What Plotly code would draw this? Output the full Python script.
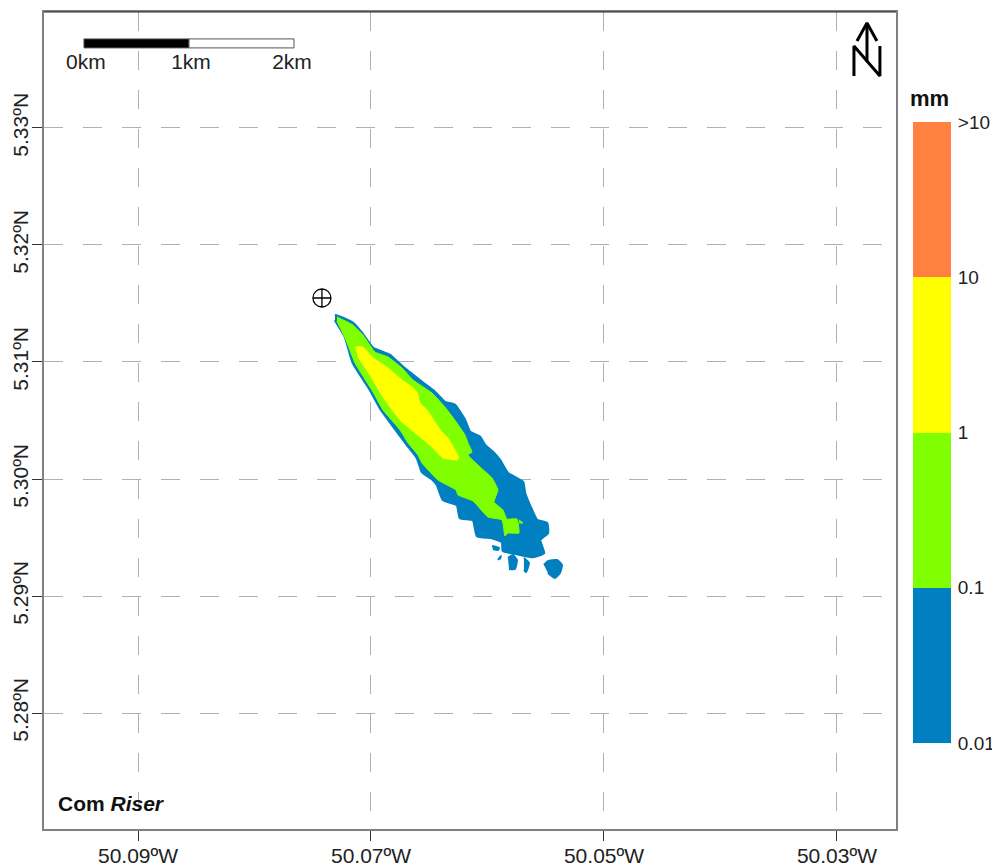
import plotly.graph_objects as go

# Map ticks
lon_ticks = [-50.09, -50.07, -50.05, -50.03]
lon_labels = ["50.09ºW", "50.07ºW", "50.05ºW", "50.03ºW"]
lat_ticks = [5.28, 5.29, 5.30, 5.31, 5.32, 5.33]
lat_labels = ["5.28ºN", "5.29ºN", "5.30ºN", "5.31ºN", "5.32ºN", "5.33ºN"]

# Thickness class outlines (lon, lat)
blue_lon = [-50.07309,-50.07240,-50.07155,-50.07077,-50.06983,-50.06837,-50.06725,-50.06562,-50.06451,-50.06365,-50.06279,-50.06193,-50.06150,-50.06064,-50.06021,-50.05953,-50.05893,-50.05824,-50.05695,-50.05678,-50.05618,-50.05575,-50.05489,-50.05481,-50.05549,-50.05515,-50.05609,-50.05747,-50.05867,-50.05875,-50.05961,-50.06090,-50.06124,-50.06236,-50.06262,-50.06382,-50.06433,-50.06468,-50.06562,-50.06605,-50.06691,-50.06768,-50.06923,-50.07009,-50.07155,-50.07223,-50.07309]
blue_lat = [5.31402,5.31376,5.31333,5.31248,5.31120,5.31060,5.30957,5.30829,5.30744,5.30658,5.30633,5.30504,5.30402,5.30359,5.30291,5.30231,5.30162,5.30051,5.29974,5.29880,5.29735,5.29650,5.29624,5.29538,5.29479,5.29368,5.29333,5.29359,5.29385,5.29462,5.29496,5.29513,5.29650,5.29667,5.29778,5.29821,5.29949,5.29991,5.30060,5.30179,5.30291,5.30393,5.30607,5.30761,5.30991,5.31214,5.31359]
green_lon = [-50.07292,-50.07155,-50.07069,-50.06966,-50.06854,-50.06734,-50.06639,-50.06476,-50.06365,-50.06262,-50.06193,-50.06167,-50.06133,-50.06167,-50.06064,-50.05961,-50.05910,-50.05944,-50.05867,-50.05833,-50.05747,-50.05730,-50.05824,-50.05850,-50.05875,-50.05996,-50.06124,-50.06253,-50.06270,-50.06425,-50.06562,-50.06597,-50.06682,-50.06751,-50.06897,-50.06983,-50.07137,-50.07215,-50.07292]
green_lat = [5.31385,5.31316,5.31231,5.31085,5.31043,5.30949,5.30846,5.30735,5.30615,5.30479,5.30376,5.30308,5.30231,5.30205,5.30103,5.30009,5.29906,5.29803,5.29735,5.29658,5.29658,5.29538,5.29538,5.29513,5.29650,5.29675,5.29812,5.29863,5.29906,5.29991,5.30137,5.30205,5.30308,5.30419,5.30590,5.30744,5.30991,5.31188,5.31350]
yellow_lon = [-50.07137,-50.07069,-50.06991,-50.06854,-50.06734,-50.06648,-50.06605,-50.06579,-50.06519,-50.06451,-50.06391,-50.06339,-50.06245,-50.06262,-50.06382,-50.06468,-50.06579,-50.06751,-50.06897,-50.07009,-50.07112]
yellow_lat = [5.31128,5.31128,5.31043,5.30949,5.30846,5.30786,5.30744,5.30650,5.30590,5.30487,5.30402,5.30350,5.30179,5.30162,5.30179,5.30265,5.30359,5.30504,5.30701,5.30889,5.31043]

# Detached patches
islet_lons = [
    [-50.05515,-50.05481,-50.05403,-50.05360,-50.05378,-50.05421,-50.05481],
    [-50.05824,-50.05781,-50.05747,-50.05764,-50.05815],
    [-50.05687,-50.05644,-50.05669,-50.05687],
    [-50.05961,-50.05901,-50.05910,-50.05953],
    [-50.05910,-50.05884,-50.05893],
]
islet_lats = [
    [5.29265,5.29299,5.29308,5.29265,5.29197,5.29154,5.29197],
    [5.29325,5.29350,5.29308,5.29231,5.29231],
    [5.29325,5.29282,5.29205,5.29222],
    [5.29427,5.29410,5.29393,5.29402],
    [5.29308,5.29342,5.29316],
]
green_spot_lon = [-50.05730,-50.05695,-50.05730]
green_spot_lat = [5.29650,5.29624,5.29624]

release_lon = [-50.07421]
release_lat = [5.31547]

# Scale bar and north arrow
scale_lons = [-50.09464, -50.08562, -50.07661]
scale_label_lons = [-50.09447, -50.08545, -50.07678]
scale_lat_top = 5.33761
scale_lat_bottom = 5.33684
scale_label_lat = 5.33547
scale_labels = ["0km", "1km", "2km"]
north_lon = [None, -50.02828,-50.02742,-50.02657,None,-50.02742,-50.02742,None,-50.02854,-50.02854,-50.02631,-50.02631]
north_lat = [None, 5.33744,5.33897,5.33744,None,5.33897,5.33564,None,5.33444,5.33701,5.33444,5.33701]

# Legend
band_labels = ["0.01", "0.1", "1", "10", ">10"]
band_colors = ["#0080C0", "#80FF00", "#FFFF00", "#FF8040"]
band_steps = [1, 1, 1, 1]

FONT = "Liberation Sans"
BLUE, GREEN, YELLOW, ORANGE = band_colors

fig = go.Figure()

def patch(lon, lat, color, width=1):
    fig.add_trace(go.Scatter(x=lon, y=lat, mode="lines", fill="toself", fillcolor=color,
                             line=dict(color=color, width=width, shape="spline", smoothing=0.4),
                             hoverinfo="skip", showlegend=False))

patch(blue_lon, blue_lat, BLUE, 2.5)
for lo, la in zip(islet_lons, islet_lats):
    patch(lo, la, BLUE, 2)
patch(green_lon, green_lat, GREEN)
patch(green_spot_lon, green_spot_lat, GREEN)
patch(yellow_lon, yellow_lat, YELLOW)

fig.add_trace(go.Scatter(x=release_lon, y=release_lat, mode="markers",
                         marker=dict(symbol="circle-cross-open", size=18, color="black", line=dict(width=1.3, color="black")),
                         hoverinfo="skip", showlegend=False))

for i, col in enumerate(["black", "white"]):
    x0, x1 = scale_lons[i], scale_lons[i + 1]
    fig.add_trace(go.Scatter(x=[x0, x1, x1, x0, x0],
                             y=[scale_lat_bottom, scale_lat_bottom, scale_lat_top, scale_lat_top, scale_lat_bottom],
                             mode="lines", fill="toself", fillcolor=col, line=dict(color="#555555", width=1),
                             hoverinfo="skip", showlegend=False))
fig.add_trace(go.Scatter(x=scale_label_lons, y=[scale_label_lat] * 3, mode="text", text=scale_labels,
                         textfont=dict(family=FONT, size=21, color="#222222"),
                         hoverinfo="skip", showlegend=False))
fig.add_trace(go.Scatter(x=north_lon, y=north_lat, mode="lines", line=dict(color="black", width=3),
                         hoverinfo="skip", showlegend=False))

for step, col in zip(band_steps, band_colors):
    fig.add_trace(go.Bar(x=["mm"], y=[step], marker=dict(color=col, line=dict(width=0)),
                         xaxis="x2", yaxis="y2", hoverinfo="skip", showlegend=False))

grid = dict(showgrid=True, gridcolor="#B0B0B0", gridwidth=1.2, griddash="19px,20px", zeroline=False,
            showline=True, linecolor="#808080", linewidth=2, mirror=True, automargin=False,
            ticks="outside", ticklen=10, tickcolor="#333333", tickwidth=1,
            tickfont=dict(family=FONT, size=21, color="#222222"))

fig.update_layout(
    width=992, height=858, autosize=False,
    margin=dict(l=36, r=0, t=4, b=37),
    paper_bgcolor="white", plot_bgcolor="white",
    barmode="stack", bargap=0,
    xaxis=dict(domain=[0, 852 / 956], range=[-50.09807, -50.02493], tickmode="array",
               tickvals=lon_ticks, ticktext=lon_labels, ticklabelstandoff=-3, **grid),
    yaxis=dict(range=[5.27009, 5.33991], tickmode="array", tickvals=lat_ticks, ticktext=lat_labels,
               tickangle=-90, ticklabelstandoff=-4, **grid),
    xaxis2=dict(domain=[869 / 956, 907 / 956], anchor="y2", showticklabels=False, ticks="",
                showgrid=False, zeroline=False, showline=False, automargin=False),
    yaxis2=dict(domain=[86 / 817, 707 / 817], anchor="x2", side="right", range=[0, 4],
                tickmode="array", tickvals=[0, 1, 2, 3, 4], ticktext=band_labels,
                ticks="outside", ticklen=2, tickcolor="rgba(0,0,0,0)", automargin=False,
                showgrid=False, zeroline=False, showline=False,
                tickfont=dict(family=FONT, size=19, color="#222222")),
    shapes=[dict(type="line", xref="paper", yref="paper", x0=0, x1=852 / 956, y0=1, y1=1,
                 line=dict(color="#222222", width=1))],
    annotations=[
        dict(text="<b>mm</b>", xref="paper", yref="paper", x=885 / 956, y=731 / 817, showarrow=False,
             xanchor="center", yanchor="middle",
             font=dict(family=FONT, size=22, color="#111111")),
        dict(text="<b>Com <i>Riser</i></b>", x=-50.09704, y=5.27231, xanchor="left", showarrow=False,
             font=dict(family=FONT, size=21, color="#111111")),
    ],
)

fig.write_html("out.html")
